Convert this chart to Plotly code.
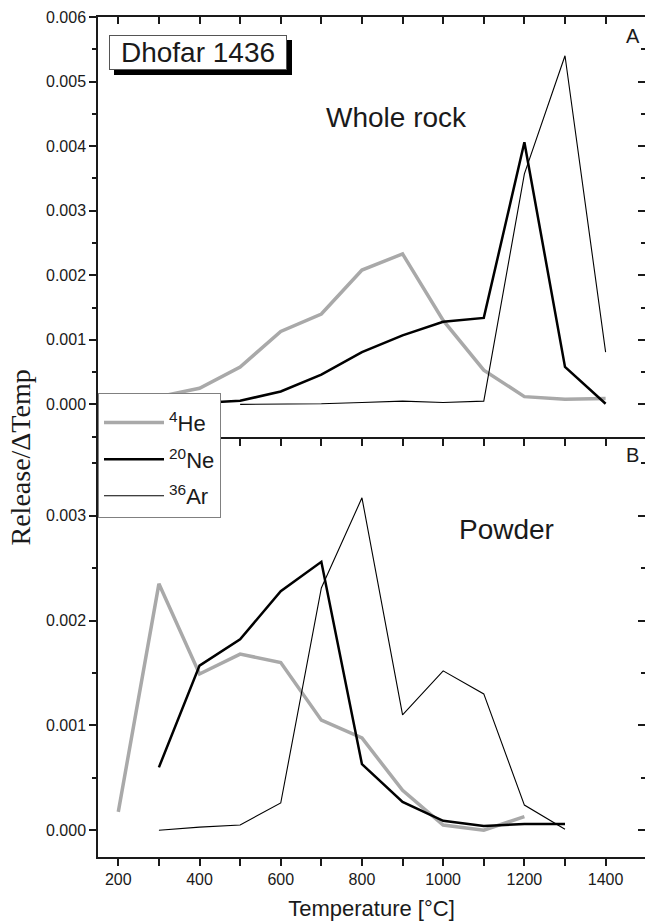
import plotly.graph_objects as go

# ---------------- data ----------------
# Panel A: whole rock
temp_he_a = [200, 300, 400, 500, 600, 700, 800, 900, 1000, 1100, 1200, 1300, 1400]
he_a = [0.00003, 0.00012, 0.00025, 0.00058, 0.00113, 0.00140, 0.00208, 0.00233, 0.00130, 0.00053, 0.00012, 0.00008, 0.00009]
temp_ne_a = [300, 400, 500, 600, 700, 800, 900, 1000, 1100, 1200, 1300, 1400]
ne_a = [0.00001, 0.00002, 0.000056, 0.00020, 0.00046, 0.00081, 0.00107, 0.00128, 0.00134, 0.00406, 0.00058, 0.00001]
temp_ar_a = [500, 600, 700, 800, 900, 1000, 1100, 1200, 1300, 1400]
ar_a = [0.0, 0.000005, 0.00001, 0.00003, 0.00005, 0.00003, 0.00005, 0.00357, 0.00540, 0.00081]

# Panel B: powder
temp_he_b = [200, 300, 400, 500, 600, 700, 800, 900, 1000, 1100, 1200]
he_b = [0.000175, 0.00235, 0.00149, 0.00168, 0.00160, 0.00105, 0.00088, 0.00038, 0.00005, 0.0, 0.00013]
temp_ne_b = [300, 400, 500, 600, 700, 800, 900, 1000, 1100, 1200, 1300]
ne_b = [0.00060, 0.00157, 0.00182, 0.00228, 0.00256, 0.00063, 0.00027, 0.00009, 0.00004, 0.00006, 0.00006]
temp_ar_b = [300, 400, 500, 600, 700, 800, 900, 1000, 1100, 1200, 1300]
ar_b = [0.0, 0.00003, 0.00005, 0.00026, 0.00231, 0.00317, 0.00110, 0.00152, 0.00130, 0.00024, 0.00001]

series_names = ["<sup>4</sup>He", "<sup>20</sup>Ne", "<sup>36</sup>Ar"]
x_range = [150, 1497]
y_range_a = [-0.000505, 0.006]
y_range_b = [-0.000255, 0.00375]

# ---------------- styles ----------------
GRAY = "#a9a9a9"
INK = "#1a1a1a"
styles = [dict(color=GRAY, width=3.5), dict(color="#000000", width=2.5), dict(color="#000000", width=1.1)]
SANS = "Liberation Sans, Arial, sans-serif"

fig = go.Figure()
top = [(temp_he_a, he_a), (temp_ne_a, ne_a), (temp_ar_a, ar_a)]
bot = [(temp_he_b, he_b), (temp_ne_b, ne_b), (temp_ar_b, ar_b)]
for i, (t, v) in enumerate(top):
    fig.add_trace(go.Scatter(x=t, y=v, mode="lines", line=styles[i], xaxis="x2", yaxis="y2",
                             showlegend=False, name=series_names[i]))
for i, (t, v) in enumerate(bot):
    fig.add_trace(go.Scatter(x=t, y=v, mode="lines", line=styles[i], xaxis="x", yaxis="y",
                             name=series_names[i], legendgroup=str(i)))
# empty helpers so overlay axes (top / right ticks) are drawn
for xa, ya in [("x3", "y2"), ("x", "y3"), ("x2", "y4")]:
    fig.add_trace(go.Scatter(x=[], y=[], xaxis=xa, yaxis=ya, showlegend=False, hoverinfo="skip"))

ax = dict(showline=True, linecolor=INK, linewidth=1.5, showgrid=False, zeroline=False,
          ticks="outside", tickcolor=INK, tickwidth=1.5, ticklen=7,
          tickfont=dict(family=SANS, size=16, color=INK))

fig.update_layout(
    width=645, height=921,
    margin=dict(l=98, r=0, t=17, b=64),
    paper_bgcolor="white", plot_bgcolor="white",
    xaxis=dict(ax, domain=[0, 1], anchor="y", range=x_range, tick0=0, dtick=200,
               minor=dict(dtick=100, tick0=0, ticks="outside", ticklen=7, tickwidth=1.5, tickcolor=INK, showgrid=False),
               title=dict(text="Temperature [°C]", font=dict(family=SANS, size=22, color=INK), standoff=14)),
    xaxis2=dict(ax, domain=[0, 1], anchor="y2", range=x_range, tick0=0, dtick=100, showticklabels=False),
    xaxis3=dict(ax, overlaying="x2", side="top", anchor="y2", range=x_range, tick0=0, dtick=100,
                ticks="inside", showticklabels=False),
    yaxis=dict(ax, domain=[0, 0.5], anchor="x", range=y_range_b, tick0=0, dtick=0.001, tickformat=".3f",
               minor=dict(dtick=0.0005, tick0=0, ticks="outside", ticklen=4, tickwidth=1.5, tickcolor=INK, showgrid=False)),
    yaxis2=dict(ax, domain=[0.5, 1], anchor="x2", range=y_range_a, tick0=0, dtick=0.001, tickformat=".3f",
                minor=dict(dtick=0.0005, tick0=0, ticks="outside", ticklen=4, tickwidth=1.5, tickcolor=INK, showgrid=False)),
    yaxis3=dict(ax, overlaying="y", side="right", anchor="x", range=y_range_b, tick0=0, dtick=0.001,
                showline=False, ticks="inside", showticklabels=False,
                minor=dict(dtick=0.0005, tick0=0, ticks="inside", ticklen=4, tickwidth=1.5, tickcolor=INK, showgrid=False)),
    yaxis4=dict(ax, overlaying="y2", side="right", anchor="x2", range=y_range_a, tick0=0, dtick=0.001,
                showline=False, ticks="inside", showticklabels=False,
                minor=dict(dtick=0.0005, tick0=0, ticks="inside", ticklen=4, tickwidth=1.5, tickcolor=INK, showgrid=False)),
    legend=dict(x=0, y=0.5524, xanchor="left", yanchor="top", bgcolor="white",
                bordercolor="#808080", borderwidth=1, font=dict(family=SANS, size=22, color=INK),
                itemwidth=60, tracegroupgap=5, traceorder="grouped",
                title=dict(text=" ", font=dict(family=SANS, size=6))),
    showlegend=True,
)

ann_font = dict(family=SANS, size=28, color=INK)
def note(x, y, text, **kw):
    fig.add_annotation(xref="paper", yref="paper", x=x, y=y, text=text, showarrow=False,
                       xanchor="center", yanchor="middle", **kw)

note(0.1828, 0.9577, "Dhofar 1436", font=dict(family=SANS, size=28, color="black"), bgcolor="black",
     bordercolor="black", borderwidth=1, borderpad=0, width=176, height=33, xshift=5, yshift=-5)
note(0.1828, 0.9577, "Dhofar 1436", font=ann_font, bgcolor="white", bordercolor="#555555",
     borderwidth=1, borderpad=0, width=176, height=33)
note(0.5448, 0.8798, "Whole rock", font=ann_font)
note(0.7477, 0.3893, "Powder", font=ann_font)
note(0.978, 0.9774, "A", font=dict(family=SANS, size=20, color=INK))
note(0.978, 0.4786, "B", font=dict(family=SANS, size=20, color=INK))
note(-0.1426, 0.4756, "Release/ΔTemp", textangle=-90,
     font=dict(family="Liberation Serif, Times New Roman, serif", size=28, color=INK))

fig.write_html("out.html")
